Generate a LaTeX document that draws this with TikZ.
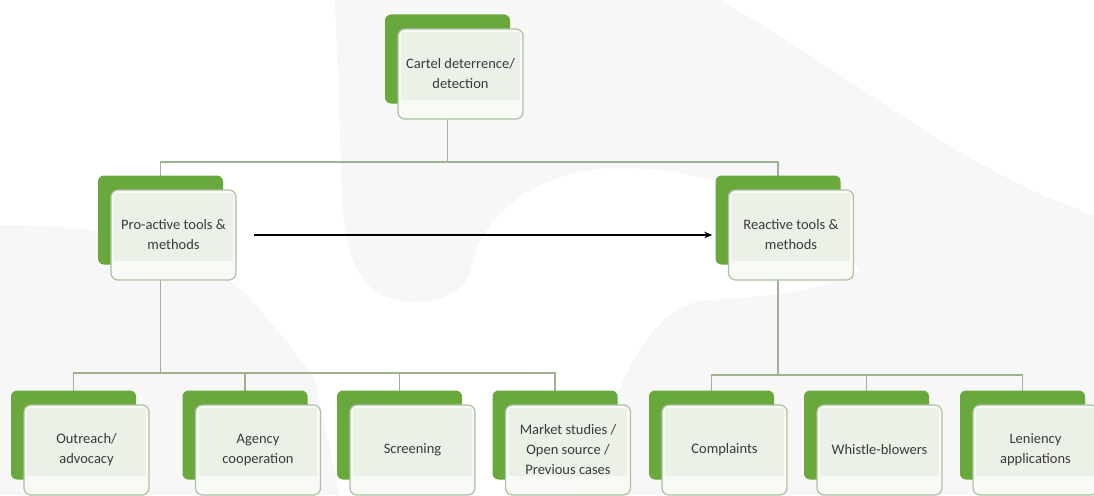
\documentclass[tikz,border=0pt]{standalone}
\usepackage{fontspec}
\setmainfont{Carlito}
\usetikzlibrary{arrows.meta,calc}

\definecolor{leaf}{RGB}{104,168,60}
\definecolor{cardfill}{RGB}{247,250,245}
\definecolor{cardinner}{RGB}{235,241,231}
\definecolor{cardedge}{RGB}{172,192,162}
\definecolor{wirecol}{RGB}{158,178,144}
\definecolor{ink}{RGB}{58,58,58}
\definecolor{haze}{RGB}{247,247,247}

\tikzset{
  backcard/.style={draw=none, fill=leaf, rounded corners=6pt,
    minimum width=125pt, minimum height=89pt, inner sep=0pt},
  frontcard/.style={draw=cardedge, line width=1.2pt, fill=cardfill,
    rounded corners=7pt, minimum width=125pt, minimum height=90pt, inner sep=0pt},
  cardtext/.style={text=ink, font=\fontsize{14.5}{20}\selectfont, align=center, inner sep=0pt},
  wire/.style={draw=wirecol, line width=1.3pt},
  flow/.style={draw=black, line width=1.6pt, -{Stealth[length=8pt,width=6.5pt]}},
}

% a green card with a pale card laid over it, offset down and to the right
\newcommand\card[4]{%
  \node[backcard] (#1b) at (#2,#3) {};
  \node[frontcard] (#1f) at ($(#2,#3)+(13,15)$) {};
  \fill[cardinner] ($(#1f.north west)+(4,4)$) rectangle ($(#1f.south east)+(-4,-20)$);
  \node[cardtext] (#1t) at (#1f) {#4};
}

\begin{document}
\begin{tikzpicture}[x=1pt, y=-1pt]
\useasboundingbox (0,0) rectangle (1094,495);
\clip (0,0) rectangle (1094,495);
\fill[white] (0,0) rectangle (1094,495);

% faint background swoosh
\fill[haze] (335,0) -- (720,0) .. controls (860,80) and (960,170) .. (1094,215)
  -- (1094,495) -- (585,495) .. controls (615,380) and (650,303) .. (710,300)
  .. controls (770,297) and (830,290) .. (860,270)
  .. controls (800,200) and (700,165) .. (610,168)
  .. controls (530,172) and (480,220) .. (472,265)
  .. controls (468,290) and (445,302) .. (410,302)
  .. controls (370,302) and (345,270) .. (342,200)
  .. controls (340,120) and (337,60) .. (335,0) -- cycle;
\fill[haze] (0,225) .. controls (130,225) and (210,250) .. (260,310)
  .. controls (290,345) and (305,365) .. (315,380) -- (340,495) -- (0,495) -- cycle;

% junction points of the tree
\coordinate (hubtop) at (447.5,162);
\coordinate (hubleft) at (160.5,373);
\coordinate (hubright) at (778,375);

% wires (drawn first so the cards sit on top of them)
\draw[wire] (447.5,110) -- (hubtop);
\draw[wire] (160.5,220) |- (hubtop) -| (778,220);
\draw[wire] (160.5,270) -- (hubleft);
\draw[wire] (hubleft) -| (73.5,400);
\draw[wire] (hubleft) -| (245,400);
\draw[wire] (hubleft) -| (399.5,400);
\draw[wire] (hubleft) -| (555,400);
\draw[wire] (778,270) -- (hubright);
\draw[wire] (hubright) -| (711.5,400);
\draw[wire] (hubright) -| (866.5,400);
\draw[wire] (hubright) -| (1022.5,400);

% cards
\card{top}{447.5}{59}{Cartel deterrence/\\detection}
\card{pro}{160.5}{220}{Pro-active tools \&\\methods}
\card{re}{778}{220}{Reactive tools \&\\methods}
\card{out}{73.5}{435}{Outreach/\\advocacy}
\card{agc}{245}{435}{Agency\\cooperation}
\card{scr}{399.5}{435}{Screening}
\card{mkt}{555}{435}{Market studies /\\Open source /\\Previous cases}
\card{cmp}{711.5}{435}{Complaints}
\card{wsb}{866.5}{435}{Whistle-blowers}
\card{len}{1022.5}{435}{Leniency\\applications}

% from pro-active to reactive
\draw[flow] ($(prof.east)+(17,0)$) -- ($(prof.east -| reb.west)+(-3,0)$);
\end{tikzpicture}
\end{document}
